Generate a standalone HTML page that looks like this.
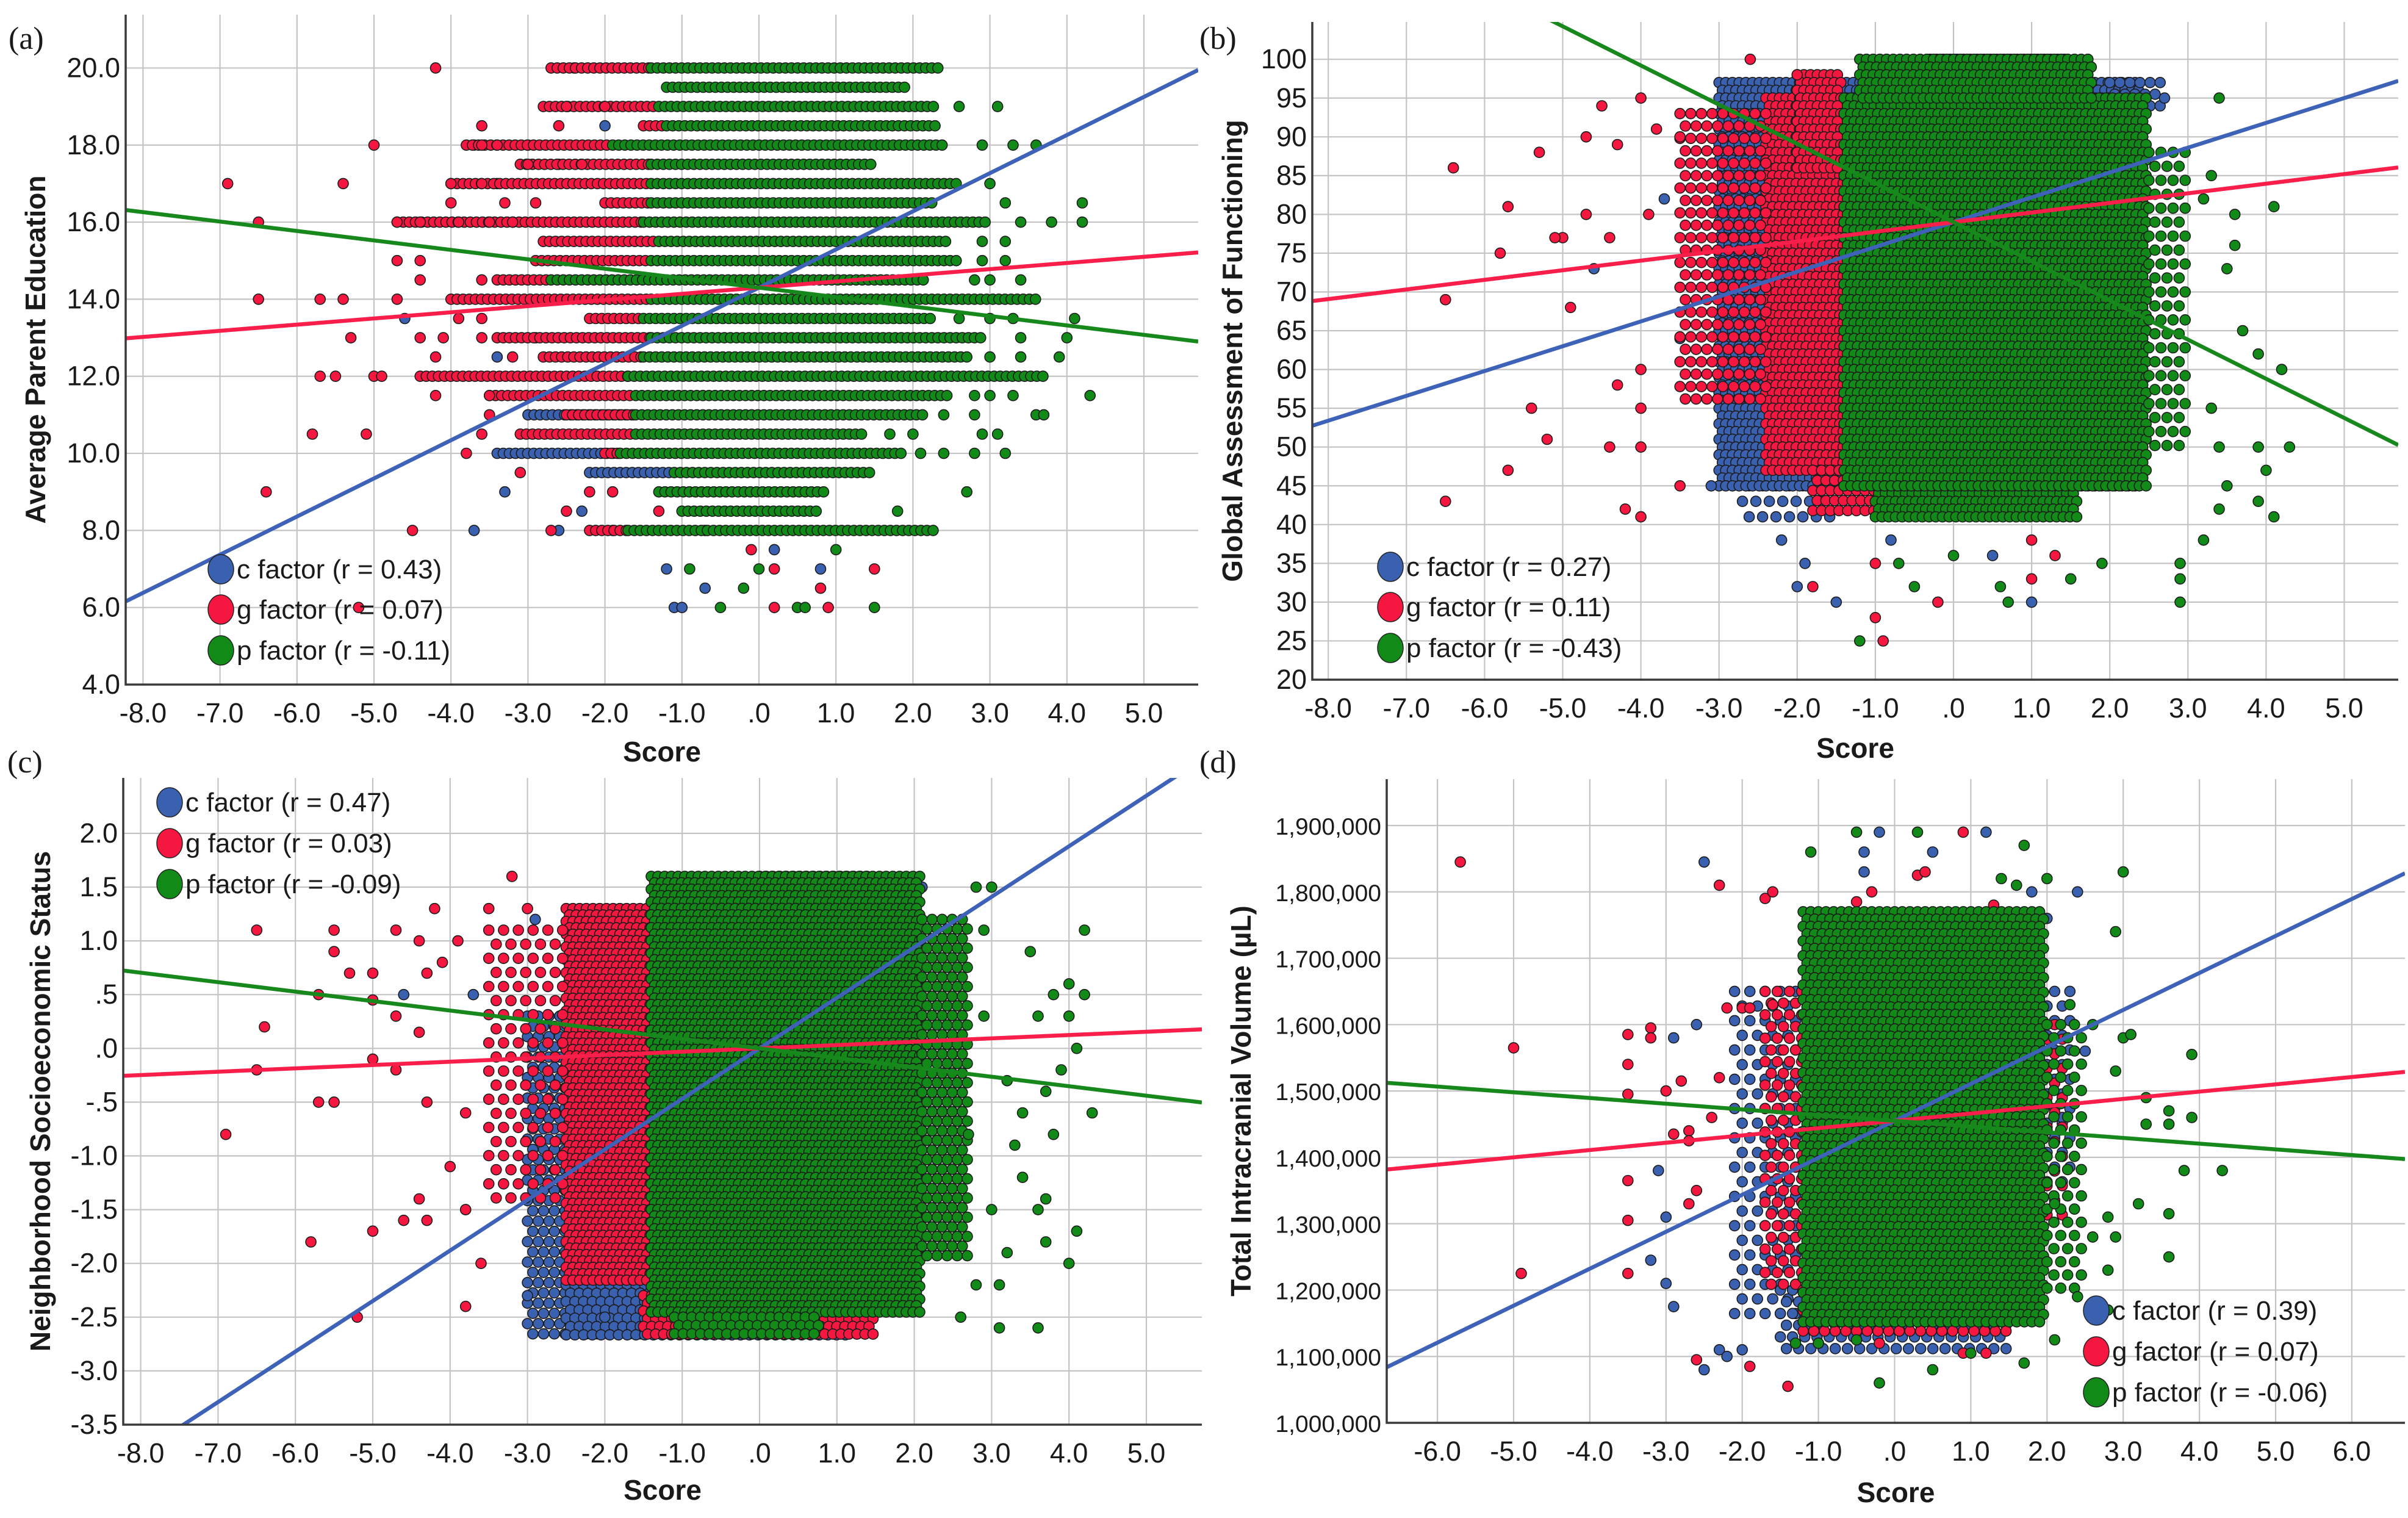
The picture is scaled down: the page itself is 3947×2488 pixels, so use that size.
<!DOCTYPE html>
<html><head><meta charset="utf-8">
<style>
html,body{margin:0;padding:0;background:#fff;}
svg{display:block;}
text{font-family:"Liberation Sans",sans-serif;fill:#1a1a1a;}
.tick{font-size:45px;}
.tickd{font-size:39px;}
.ttl{font-size:46px;font-weight:bold;}
.leg{font-size:44px;}
.lab{font-family:"Liberation Serif",serif;font-size:52px;}
</style></head>
<body>
<svg id="fig" width="3947" height="2488" viewBox="0 0 3947 2488" xmlns="http://www.w3.org/2000/svg"></svg>
<script>
// ===== Panel (a): Average Parent Education =====
const aGreenRows=[[20,-1.4,2.4],[19.5,-1.2,1.9],[19,-1.3,2.3],[18.5,-1.2,2.3],[18,-1.9,2.4],[17.5,-1.4,1.5],[17,-1.4,2.6],[16.5,-1.4,2.3],[16,-1.5,3.0],[15.5,-1.3,2.5],[15,-1.4,2.6],[14.5,-2.7,2.2],[14,-1.4,3.6],[13.5,-1.5,2.3],[13,-1.4,2.9],[12.5,-1.5,2.7],[12,-1.7,3.7],[11.5,-1.6,2.5],[11,-1.6,2.2],[10.5,-1.6,1.4],[10,-1.8,1.9],[9.5,-1.1,1.5],[9,-1.3,0.9],[8.5,-1.0,0.8],[8,-1.7,2.3]];
const aRedRows=[[20,-2.7,-1.4],[19,-2.8,-1.3],[18.5,-1.5,-1.2],[18,-3.8,-1.9],[17.5,-3.1,-1.4],[17,-4.0,-1.4],[16.5,-2.0,-1.4],[16,-4.7,-1.5],[15.5,-2.8,-1.3],[15,-2.9,-1.4],[14.5,-3.4,-2.7],[14,-4.0,-1.4],[13.5,-2.2,-1.5],[13,-3.4,-1.4],[12.5,-2.8,-1.5],[12,-4.4,-1.7],[11.5,-3.5,-1.6],[11,-2.5,-1.6],[10.5,-3.1,-1.6],[10,-2.0,-1.8],[8,-2.2,-1.7]];
const aBlueRows=[[11,-3.0,-1.6],[10,-3.4,-1.8],[9.5,-2.2,-1.1]];
const aGreenPts=[[3.1,19],[2.6,19],[3.6,18],[3.3,18],[2.9,18],[3.0,17],[3.2,16.5],[4.2,16.5],[3.4,16],[3.8,16],[4.2,16],[2.9,15.5],[3.2,15.5],[2.9,15],[3.2,15],[2.8,14.5],[3.0,14.5],[3.4,14.5],[2.6,13.5],[3.0,13.5],[3.3,13.5],[4.1,13.5],[3.4,13],[4.0,13],[3.0,12.5],[3.4,12.5],[3.9,12.5],[2.8,11.5],[3.0,11.5],[3.3,11.5],[4.3,11.5],[2.4,11],[2.8,11],[3.6,11],[3.7,11],[1.7,10.5],[2.0,10.5],[2.9,10.5],[3.1,10.5],[2.1,10],[2.4,10],[2.8,10],[3.2,10],[2.7,9],[1.8,8.5],[1.0,7.5],[-0.9,7],[0,7],[-0.2,6.5],[-0.5,6],[0.5,6],[0.6,6],[1.5,6]];
const aRedPts=[[-4.2,20],[-2.5,19],[-2.0,19],[-3.6,18.5],[-2.6,18.5],[-5.0,18],[-3.6,18],[-3.4,18],[-3.0,17.5],[-2.3,17.5],[-6.9,17],[-5.4,17],[-4.0,17],[-3.6,17],[-4.0,16.5],[-3.3,16.5],[-2.9,16.5],[-6.5,16],[-4.7,16],[-4.4,16],[-3.9,16],[-3.5,16],[-3.2,16],[-4.7,15],[-4.4,15],[-4.4,14.5],[-3.6,14.5],[-6.5,14],[-5.7,14],[-5.4,14],[-4.7,14],[-3.9,13.5],[-3.6,13.5],[-5.3,13],[-4.4,13],[-4.1,13],[-3.6,13],[-4.2,12.5],[-3.2,12.5],[-5.7,12],[-5.5,12],[-5.0,12],[-4.9,12],[-4.2,11.5],[-3.5,11.5],[-3.5,11],[-5.8,10.5],[-5.1,10.5],[-3.6,10.5],[-3.8,10],[-3.1,9.5],[-6.4,9],[-2.2,9],[-1.9,9],[-1.3,8.5],[-2.5,8.5],[-4.5,8],[-2.7,8],[-0.1,7.5],[0.2,7],[1.5,7],[0.8,6.5],[0.2,6],[0.9,6],[-5.2,6]];
const aBluePts=[[-2.4,20],[-2.0,18.5],[-3.0,18],[-3.7,18],[-2.6,17.5],[-3.4,17],[-4.6,13.5],[-2.9,13],[-3.4,12.5],[-3.3,9],[-2.3,8.5],[-3.7,8],[-2.6,8],[-1.9,8],[-0.7,8],[-1.2,7],[0.8,7],[0.2,7.5],[-0.7,6.5],[-1.1,6],[-1.0,6]];
const aSlopes=[0.99,0.16,-0.245];
const aIntercepts=[14.3,14.3,14.3];
const aR=["0.43","0.07","-0.11"];
const aYTicks=[4,6,8,10,12,14,16,18,20];
const aYLabels=["4.0","6.0","8.0","10.0","12.0","14.0","16.0","18.0","20.0"];

// ===== Panel (b): Global Assessment of Functioning ===== [yLow,yHigh,xLow,xHigh,sparsity]
const bBlueBands=[[40,55,-2.7,-1.5,2],[45,97,-3.0,2.4,1],[93,97,2.0,2.7,1.5]];
const bRedBands=[[47,95,-2.4,-1.4,1],[55,93,-3.5,-2.4,1.6],[41,47,-1.8,1.2,1.3],[95,100,-0.3,1.5,1],[86,98,-2.0,-1.4,1]];
const bGreenBands=[[41,45,-1.0,1.6,1],[45,95,-1.4,2.5,1],[95,100,-1.2,1.8,1],[50,88,2.5,3.0,1.8]];
const bRedPts=[[-6.4,86],[-6.5,69],[-6.5,43],[-5.7,81],[-5.8,75],[-5.7,47],[-5.4,55],[-5.3,88],[-5.2,51],[-5.0,77],[-5.1,77],[-4.9,68],[-4.7,90],[-4.7,80],[-4.5,94],[-4.3,89],[-4.4,77],[-4.4,50],[-4.3,58],[-4.2,42],[-4.0,95],[-4.0,41],[-3.9,80],[-4.0,60],[-4.0,55],[-4.0,50],[-3.8,91],[-3.5,90],[-3.5,45],[-2.6,100],[-2.0,98],[-1.8,32],[-1.0,35],[-1.0,28],[-0.9,25],[1.0,38],[1.3,36],[-0.2,30],[1.0,33]];
const bBluePts=[[-4.6,73],[-3.7,82],[-3.5,64],[-3.1,45],[-2.0,32],[-1.9,35],[-1.5,30],[-0.8,38],[0.5,36],[1.0,30],[2.7,95],[-2.2,38]];
const bGreenPts=[[3.4,95],[3.3,85],[3.2,82],[3.6,76],[3.5,73],[3.7,65],[3.9,62],[4.1,81],[4.2,60],[3.9,50],[4.3,50],[4.0,47],[3.5,45],[3.9,43],[4.1,41],[3.4,42],[3.2,38],[2.9,35],[2.9,33],[2.9,30],[-1.2,25],[-0.7,35],[0.6,32],[0.7,30],[1.5,33],[1.9,35],[3.6,80],[3.3,55],[3.4,50],[-0.5,32],[0,36]];
const bSlopes=[3.2,1.24,-5.05];
const bIntercepts=[79,79,79];
const bR=["0.27","0.11","-0.43"];
const bYTicks=[20,25,30,35,40,45,50,55,60,65,70,75,80,85,90,95,100];
const bYLabels=["20","25","30","35","40","45","50","55","60","65","70","75","80","85","90","95","100"];

// ===== Panel (c): Neighborhood SES =====
const cBlueBands=[[-2.7,0.3,-3.0,-1.5,1.6],[-2.7,-2.2,-2.5,1.2,1.3]];
const cRedBands=[[-2.2,1.3,-2.5,-1.4,1],[-1.5,1.1,-3.5,-2.5,2.2],[-2.7,-2.3,-1.5,1.5,1.2],[1.4,1.6,0,1.4,1]];
const cGreenBands=[[-2.5,1.6,-1.4,2.1,1],[-2.0,1.2,2.1,2.7,1.5],[-2.7,-2.5,-1.1,0.8,1.3]];
const cRedPts=[[-6.9,-0.8],[-6.5,1.1],[-6.4,0.2],[-6.5,-0.2],[-5.8,-1.8],[-5.7,0.5],[-5.7,-0.5],[-5.5,-0.5],[-5.5,0.9],[-5.5,1.1],[-5.3,0.7],[-5.2,-2.5],[-5.0,0.7],[-5.0,0.45],[-5.0,-0.1],[-5.0,-1.7],[-4.7,1.1],[-4.7,0.3],[-4.7,-0.2],[-4.6,-1.6],[-4.4,1.0],[-4.4,0.15],[-4.3,0.7],[-4.3,-0.5],[-4.4,-1.4],[-4.3,-1.6],[-4.2,1.3],[-4.1,0.8],[-4.0,-1.1],[-3.8,-1.5],[-3.8,-2.4],[-3.6,-2.0],[-3.9,1.0],[-3.8,-0.6],[-3.2,1.6],[-3.5,1.3],[-3.0,1.3]];
const cBluePts=[[-4.6,0.5],[-3.8,-1.5],[-3.7,0.5],[-3.0,-2.3],[-2.0,-2.5],[1.6,1.55],[2.1,1.5],[-2.9,1.2]];
const cGreenPts=[[2.8,1.5],[3.0,1.5],[2.9,1.1],[3.5,0.9],[4.2,1.1],[4.0,0.6],[4.2,0.5],[3.8,0.5],[3.6,0.3],[4.0,0.3],[4.1,0],[3.9,-0.2],[4.3,-0.6],[3.7,-0.4],[3.4,-0.6],[3.8,-0.8],[3.3,-0.9],[3.4,-1.2],[3.7,-1.4],[3.6,-1.5],[4.1,-1.7],[3.7,-1.8],[4.0,-2.0],[3.2,-1.9],[3.1,-2.2],[3.1,-2.6],[2.8,-2.2],[2.6,-2.5],[3.6,-2.6],[3.0,-1.5],[3.2,-0.3],[2.7,-0.8],[2.9,0.3]];
const cSlopes=[0.47,0.031,-0.088];
const cIntercepts=[0,0,0];
const cR=["0.47","0.03","-0.09"];
const cYTicks=[-3.5,-3,-2.5,-2,-1.5,-1,-0.5,0,0.5,1,1.5,2];
const cYLabels=["-3.5","-3.0","-2.5","-2.0","-1.5","-1.0","-.5",".0",".5","1.0","1.5","2.0"];

// ===== Panel (d): Total Intracranial Volume (thousands of µL) =====
const dBlueBands=[[1150,1650,-2.1,-1.3,2],[1100,1200,-1.5,1.5,1.6],[1350,1650,1.9,2.3,2]];
const dRedBands=[[1200,1650,-1.7,-1.2,1.6],[1130,1200,-1.2,1.5,1.4],[1300,1600,1.9,2.2,2]];
const dGreenBands=[[1150,1770,-1.2,2.0,1],[1200,1600,2.0,2.5,1.8]];
const dRedPts=[[-5.7,1845],[-5.0,1565],[-4.9,1225],[-3.5,1585],[-3.5,1540],[-3.5,1495],[-3.5,1365],[-3.5,1305],[-3.5,1225],[-3.2,1595],[-3.2,1580],[-3.0,1500],[-2.9,1435],[-2.8,1515],[-2.7,1440],[-2.7,1425],[-2.7,1330],[-2.6,1350],[-2.4,1460],[-2.3,1520],[-2.3,1810],[-2.6,1095],[-2.2,1625],[-2.0,1625],[-1.9,1625],[-1.9,1085],[-1.7,1790],[-1.6,1800],[-1.6,1630],[-1.4,1055],[-0.5,1785],[-0.3,1800],[0.3,1825],[0.9,1890],[0.4,1830],[1.3,1780],[-0.2,1120],[0.9,1105],[1.2,1105],[1.4,1165],[0.6,1700],[0.8,1650],[0.5,1550],[1.0,1600],[0.7,1450],[0.9,1380],[0.4,1300],[1.1,1250],[0.6,1200],[-0.6,1350],[-0.8,1600]];
const dBluePts=[[-2.5,1845],[-2.5,1080],[-3.1,1380],[-3.2,1245],[-3.0,1310],[-2.9,1580],[-2.6,1600],[-3.0,1210],[-2.9,1175],[-2.3,1110],[-2.2,1100],[-2.0,1110],[-1.0,1120],[-0.2,1890],[-0.4,1860],[-0.4,1830],[0.5,1860],[1.2,1890],[2.4,1800],[1.8,1800],[2.0,1760],[2.5,1560],[2.2,1460]];
const dGreenPts=[[-0.5,1890],[0.3,1890],[-1.1,1860],[1.7,1870],[3.0,1830],[2.0,1820],[1.4,1820],[1.6,1810],[2.9,1740],[3.9,1555],[2.9,1530],[3.0,1580],[3.1,1585],[3.3,1490],[3.6,1470],[3.6,1450],[3.9,1460],[4.3,1380],[3.8,1380],[3.3,1450],[3.2,1330],[3.6,1315],[3.6,1250],[2.9,1280],[2.8,1230],[2.4,1190],[2.1,1125],[1.7,1090],[0.5,1080],[-0.2,1060],[-1.0,1120],[-1.3,1120],[-0.5,1125],[1.0,1105],[2.6,1600],[2.3,1630],[2.8,1170],[2.8,1310],[2.6,1280],[2.1,1330]];
const dSlopes=[55.7,11,-8.6];
const dIntercepts=[1455,1455,1455];
const dR=["0.39","0.07","-0.06"];
const dYTicks=[1000,1100,1200,1300,1400,1500,1600,1700,1800,1900];
const dYLabels=["1,000,000","1,100,000","1,200,000","1,300,000","1,400,000","1,500,000","1,600,000","1,700,000","1,800,000","1,900,000"];

const xTicksABC=[-8,-7,-6,-5,-4,-3,-2,-1,0,1,2,3,4,5];
const xLabelsABC=["-8.0","-7.0","-6.0","-5.0","-4.0","-3.0","-2.0","-1.0",".0","1.0","2.0","3.0","4.0","5.0"];
const xTicksD=[-6,-5,-4,-3,-2,-1,0,1,2,3,4,5,6];
const xLabelsD=["-6.0","-5.0","-4.0","-3.0","-2.0","-1.0",".0","1.0","2.0","3.0","4.0","5.0","6.0"];
const factorNames=["c factor","g factor","p factor"];

const NS="http://www.w3.org/2000/svg";
const FILL=["#3a60b0","#f5173f","#118a17"];
const LINE=["#3d62b8","#fa1e4a","#17891c"];
const svg=document.getElementById("fig");
function mk(tag,attrs,parent){const e=document.createElementNS(NS,tag);for(const k in attrs)e.setAttribute(k,attrs[k]);parent.appendChild(e);return e;}

function drawPanel(id,P,data){
  const g=mk("g",{},svg);
  
  
  const X=v=>P.x0+v*P.xs, Y=v=>P.yp0-(v-P.yv0)*P.ys;
  const cp=mk("clipPath",{id:"clip"+id},g);
  mk("rect",{x:P.L,y:P.T,width:P.R-P.L,height:P.B-P.T},cp);
  const grid=mk("g",{stroke:"#c4c4c4","stroke-width":2.2},g);
  
  
  data.xt.forEach(v=>{const l=mk("line",{x1:X(v),x2:X(v),y1:P.T,y2:P.B},grid);});
  data.yt.forEach(v=>{const l=mk("line",{x1:P.L,x2:P.R,y1:Y(v),y2:Y(v)},grid);});
  const pts=mk("g",{stroke:"#1c1c1c","stroke-width":1.6},g);
  
  
  const r=8.5;
  for(let c=0;c<3;c++){
    const series=mk("g",{fill:FILL[c]},pts);
    
    
    (data.rows[c]||[]).forEach(rw=>{
      const y=Y(rw[0]);
      for(let x=X(rw[1]);x<=X(rw[2])+0.1;x+=P.stepX){const d=mk("circle",{cx:x.toFixed(1),cy:y.toFixed(1),r:r},series);}
    });
    (data.bands[c]||[]).forEach(b=>{
      const f=b[4]||1, sx=P.stepX*f, sy=P.stepY*f;
      let k=0;
      for(let y=Y(b[1]);y<=Y(b[0])+0.1;y+=sy,k++){
        for(let x=X(b[2])+(k%2)*sx/2;x<=X(b[3])+0.1;x+=sx){const d=mk("circle",{cx:x.toFixed(1),cy:y.toFixed(1),r:r},series);}
      }
    });
    data.pts[c].forEach(p=>{const d=mk("circle",{cx:X(p[0]).toFixed(1),cy:Y(p[1]).toFixed(1),r:r},series);});
  }
  const lg=mk("g",{"clip-path":"url(#clip"+id+")"},g);
  for(let c=0;c<3;c++){
    const x1=(P.L-P.x0)/P.xs, x2=(P.R-P.x0)/P.xs;
    const l=mk("line",{x1:X(x1),y1:Y(data.ic[c]+data.sl[c]*x1),x2:X(x2),y2:Y(data.ic[c]+data.sl[c]*x2),stroke:LINE[c],"stroke-width":6.5},lg);
    
    
  }
  const ax=mk("path",{d:`M${P.L},${P.T} L${P.L},${P.B} L${P.R},${P.B}`,fill:"none",stroke:"#3a3a3a","stroke-width":3.5},g);
  
  
  data.xt.forEach((v,i)=>{const t=mk("text",{x:X(v),y:P.B+62,"text-anchor":"middle",class:"tick"},g);t.textContent=data.xl[i];});
  data.yt.forEach((v,i)=>{const t=mk("text",{x:P.L-9,y:Y(v)+15,"text-anchor":"end",class:P.yTickClass||"tick"},g);t.textContent=data.yl[i];});
  const xt=mk("text",{x:(P.L+P.R)/2,y:P.xTitleY,"text-anchor":"middle",class:"ttl"},g);
  xt.textContent="Score";
  
  
  const yc=(P.T+P.B)/2;
  const yt=mk("text",{x:P.yTitleX,y:yc,"text-anchor":"middle",class:"ttl",transform:`rotate(-90 ${P.yTitleX} ${yc})`},g);
  yt.textContent=data.ytitle;
  
  
  const pl=mk("text",{x:P.labX,y:P.labY,class:"lab"},g);
  pl.textContent="("+id+")";
  
  
  const leg=mk("g",{},g);
  
  
  for(let c=0;c<3;c++){
    const cy=P.legY[c];
    const e=mk("g",{},leg);
    
    
    mk("ellipse",{cx:P.legX,cy:cy,rx:21,ry:24,fill:FILL[c],stroke:"#222","stroke-width":1.5},e);
    const t=mk("text",{x:P.legX+26,y:cy+15,class:"leg"},e);
    t.textContent=factorNames[c]+" (r = "+data.r[c]+")";
  }
}

drawPanel("a",{L:206,R:1964,T:24,B:1122,x0:1244,xs:126.2,yv0:4,yp0:1122,ys:63.16,stepX:10,stepY:10,xTitleY:1248,yTitleX:74,labX:14,labY:80,legX:362,legY:[933,999,1066]},
 {xt:xTicksABC,xl:xLabelsABC,yt:aYTicks,yl:aYLabels,rows:[aBlueRows,aRedRows,aGreenRows],bands:[[],[],[]],pts:[aBluePts,aRedPts,aGreenPts],sl:aSlopes,ic:aIntercepts,r:aR,ytitle:"Average Parent Education"});
drawPanel("b",{L:2151,R:3931,T:36,B:1114,x0:3202,xs:128.1,yv0:20,yp0:1114,ys:12.71,stepX:11,stepY:12.71,xTitleY:1242,yTitleX:2036,labX:1966,labY:80,legX:2279,legY:[929,995,1062]},
 {xt:xTicksABC,xl:xLabelsABC,yt:bYTicks,yl:bYLabels,rows:[[],[],[]],bands:[bBlueBands,bRedBands,bGreenBands],pts:[bBluePts,bRedPts,bGreenPts],sl:bSlopes,ic:bIntercepts,r:bR,ytitle:"Global Assessment of Functioning"});
drawPanel("c",{L:202,R:1970,T:1275,B:2335,x0:1245,xs:126.8,yv0:-3.5,yp0:2335,ys:176.2,stepX:11,stepY:10.5,xTitleY:2458,yTitleX:82,labX:12,labY:1266,legX:278,legY:[1315,1382,1449]},
 {xt:xTicksABC,xl:xLabelsABC,yt:cYTicks,yl:cYLabels,rows:[[],[],[]],bands:[cBlueBands,cRedBands,cGreenBands],pts:[cBluePts,cRedPts,cGreenPts],sl:cSlopes,ic:cIntercepts,r:cR,ytitle:"Neighborhood Socioeconomic Status"});
drawPanel("d",{L:2273,R:3942,T:1277,B:2332,x0:3105.5,xs:124.9,yv0:1000,yp0:2332,ys:1.0878,stepX:12.5,stepY:12,xTitleY:2462,yTitleX:2050,labX:1966,labY:1266,legX:3436,legY:[2148,2215,2282],yTickClass:"tickd"},
 {xt:xTicksD,xl:xLabelsD,yt:dYTicks,yl:dYLabels,rows:[[],[],[]],bands:[dBlueBands,dRedBands,dGreenBands],pts:[dBluePts,dRedPts,dGreenPts],sl:dSlopes,ic:dIntercepts,r:dR,ytitle:"Total Intracranial Volume (µL)"});
</script>
</body></html>
